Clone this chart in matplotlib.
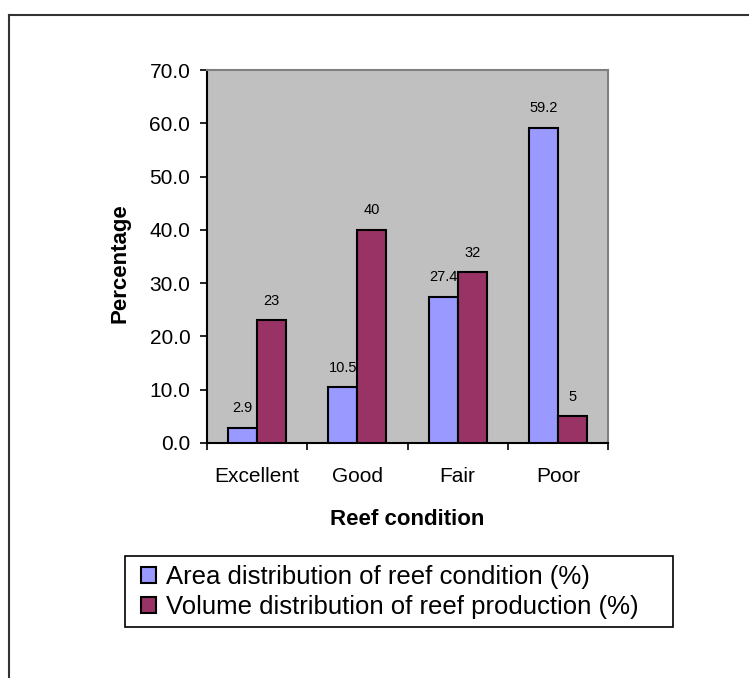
import matplotlib
matplotlib.use("Agg")
import matplotlib.pyplot as plt
from matplotlib.lines import Line2D
from matplotlib.patches import Rectangle

plt.rcParams["font.family"] = ["Liberation Sans", "DejaVu Sans"]

categories = ["Excellent", "Good", "Fair", "Poor"]
area_pct = [2.9, 10.5, 27.4, 59.2]
volume_pct = [23, 40, 32, 5]
area_labels = ["2.9", "10.5", "27.4", "59.2"]
volume_labels = ["23", "40", "32", "5"]
yticks = [0, 10, 20, 30, 40, 50, 60, 70]

W, H = 749, 678
fig = plt.figure(figsize=(W / 100, H / 100), dpi=100)
fig.patch.set_facecolor("white")

# plot area in pixel coords: x 207-608, y 70-443
ax = fig.add_axes([207 / W, 1 - 443 / H, 401 / W, 373 / H])
ax.set_facecolor("#C0C0C0")

x = list(range(len(categories)))
bw = 0.29
ax.bar([i - bw / 2 for i in x], area_pct, width=bw, color="#9999FF",
       edgecolor="black", linewidth=1.5, label="Area distribution of reef condition (%)", zorder=3)
ax.bar([i + bw / 2 for i in x], volume_pct, width=bw, color="#993366",
       edgecolor="black", linewidth=1.5, label="Volume distribution of reef production (%)", zorder=3)

for i in x:
    ax.annotate(area_labels[i], (i - bw / 2, area_pct[i]), xytext=(0, 9),
                textcoords="offset points", ha="center", va="bottom", fontsize=10.5)
    ax.annotate(volume_labels[i], (i + bw / 2, volume_pct[i]), xytext=(0, 9),
                textcoords="offset points", ha="center", va="bottom", fontsize=10.5)

ax.set_xlim(-0.5, 3.5)
ax.set_ylim(0, 70)
ax.set_yticks(yticks)
ax.set_yticklabels([f"{v:.1f}" for v in yticks], fontsize=15)
ax.tick_params(axis="y", direction="out", length=5, width=1.2, pad=7)

ax.set_xticks([-0.5, 0.5, 1.5, 2.5, 3.5])
ax.set_xticklabels([])
ax.set_xticks(x, minor=True)
ax.set_xticklabels(categories, minor=True, fontsize=15)
ax.tick_params(axis="x", which="major", direction="out", length=5, width=1.2)
ax.tick_params(axis="x", which="minor", length=0, pad=17.5)

for s in ["left", "bottom"]:
    ax.spines[s].set_color("black")
    ax.spines[s].set_linewidth(1.5)
for s in ["top", "right"]:
    ax.spines[s].set_color("#808080")
    ax.spines[s].set_linewidth(1.5)

ax.set_xlabel("Reef condition", fontsize=16, fontweight="bold")
ax.xaxis.set_label_coords(0.5, (443 - 509) / 373)
ax.set_ylabel("Percentage", fontsize=16, fontweight="bold")
ax.yaxis.set_label_coords((131 - 207) / 401, (443 - 263) / 373)

# legend box drawn separately so its size matches the reference
fig.add_artist(Rectangle((125 / W, 1 - 627 / H), (673 - 125) / W, 71 / H,
                         transform=fig.transFigure, facecolor="white",
                         edgecolor="black", linewidth=1.2, zorder=1))
leg = fig.legend(loc="upper left", bbox_to_anchor=(141 / W, 1 - 565 / H),
                 fontsize=18.5, frameon=False, handlelength=0.58,
                 handleheight=0.58, handletextpad=0.4, labelspacing=0.22,
                 borderpad=0, borderaxespad=0)
leg.set_zorder(2)

# outer chart frame (runs off the right and bottom edges)
fig.add_artist(Line2D([9 / W, 1.0], [1 - 15 / H, 1 - 15 / H], color="#333333", linewidth=1.5))
fig.add_artist(Line2D([9 / W, 9 / W], [0.0, 1 - 15 / H], color="#333333", linewidth=1.5))

fig.savefig("out.png", dpi=100, facecolor="white")
